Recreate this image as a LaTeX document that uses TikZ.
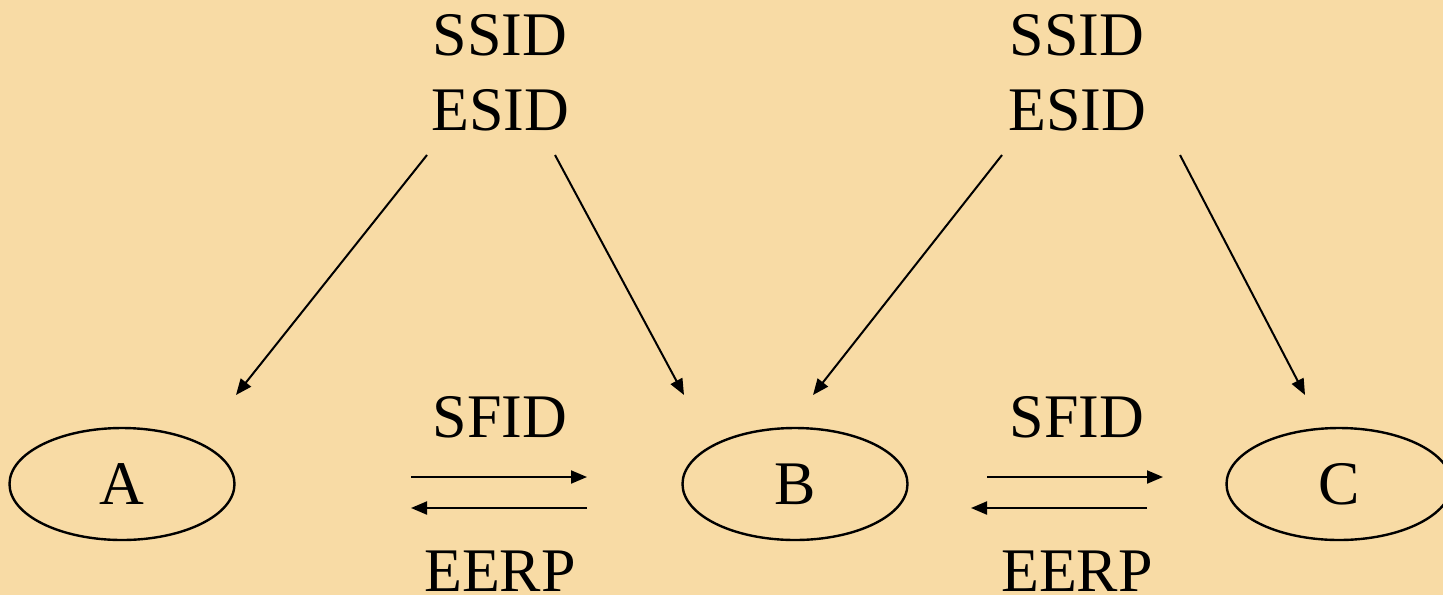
\documentclass[tikz,border=0pt]{standalone}
\usepackage{fontspec}
\setmainfont{Liberation Serif}
\usetikzlibrary{arrows.meta,shapes.geometric}
\definecolor{bg}{HTML}{F8DBA5}
\begin{document}
\begin{tikzpicture}[x=0.5pt,y=-0.5pt,
  lbl/.style={font=\fontsize{31}{37}\selectfont, anchor=base, inner sep=0pt},
  station/.style={ellipse, draw, line width=1.2pt, minimum width=112.5pt, minimum height=56pt, inner sep=0pt, font=\fontsize{31}{37}\selectfont},
  arr/.style={line width=1pt, -{Triangle[length=8pt,width=6.5pt]}}]
\fill[bg] (0,0) rectangle (1443,595);
\useasboundingbox (0,0) rectangle (1443,595);
% labels
\node[lbl] (ssid1) at (500,55) {SSID};
\node[lbl] (esid1) at (500,130) {ESID};
\node[lbl] (ssid2) at (1077,55) {SSID};
\node[lbl] (esid2) at (1077,130) {ESID};
\node[lbl] (sfid1) at (500,437) {SFID};
\node[lbl] (eerp1) at (500,591) {EERP};
\node[lbl] (sfid2) at (1077,437) {SFID};
\node[lbl] (eerp2) at (1077,591) {EERP};
% stations
\node[station] (A) at (122,484) {A};
\node[station] (B) at (795,484) {B};
\node[station] (C) at (1339,484) {C};
% connector end points
\coordinate (p1s) at (427,155); \coordinate (p1e) at (236,395);
\coordinate (p2s) at (555,155); \coordinate (p2e) at (684,395);
\coordinate (p3s) at (1002,155); \coordinate (p3e) at (813,395);
\coordinate (p4s) at (1180,155); \coordinate (p4e) at (1305,395);
\coordinate (r1s) at (411,477); \coordinate (r1e) at (587,477);
\coordinate (l1s) at (587,508); \coordinate (l1e) at (411,508);
\coordinate (r2s) at (987,477); \coordinate (r2e) at (1163,477);
\coordinate (l2s) at (1147,508); \coordinate (l2e) at (971,508);
\draw[arr] (p1s) -- (p1e);
\draw[arr] (p2s) -- (p2e);
\draw[arr] (p3s) -- (p3e);
\draw[arr] (p4s) -- (p4e);
\draw[arr] (r1s) -- (r1e);
\draw[arr] (l1s) -- (l1e);
\draw[arr] (r2s) -- (r2e);
\draw[arr] (l2s) -- (l2e);
\end{tikzpicture}
\end{document}
